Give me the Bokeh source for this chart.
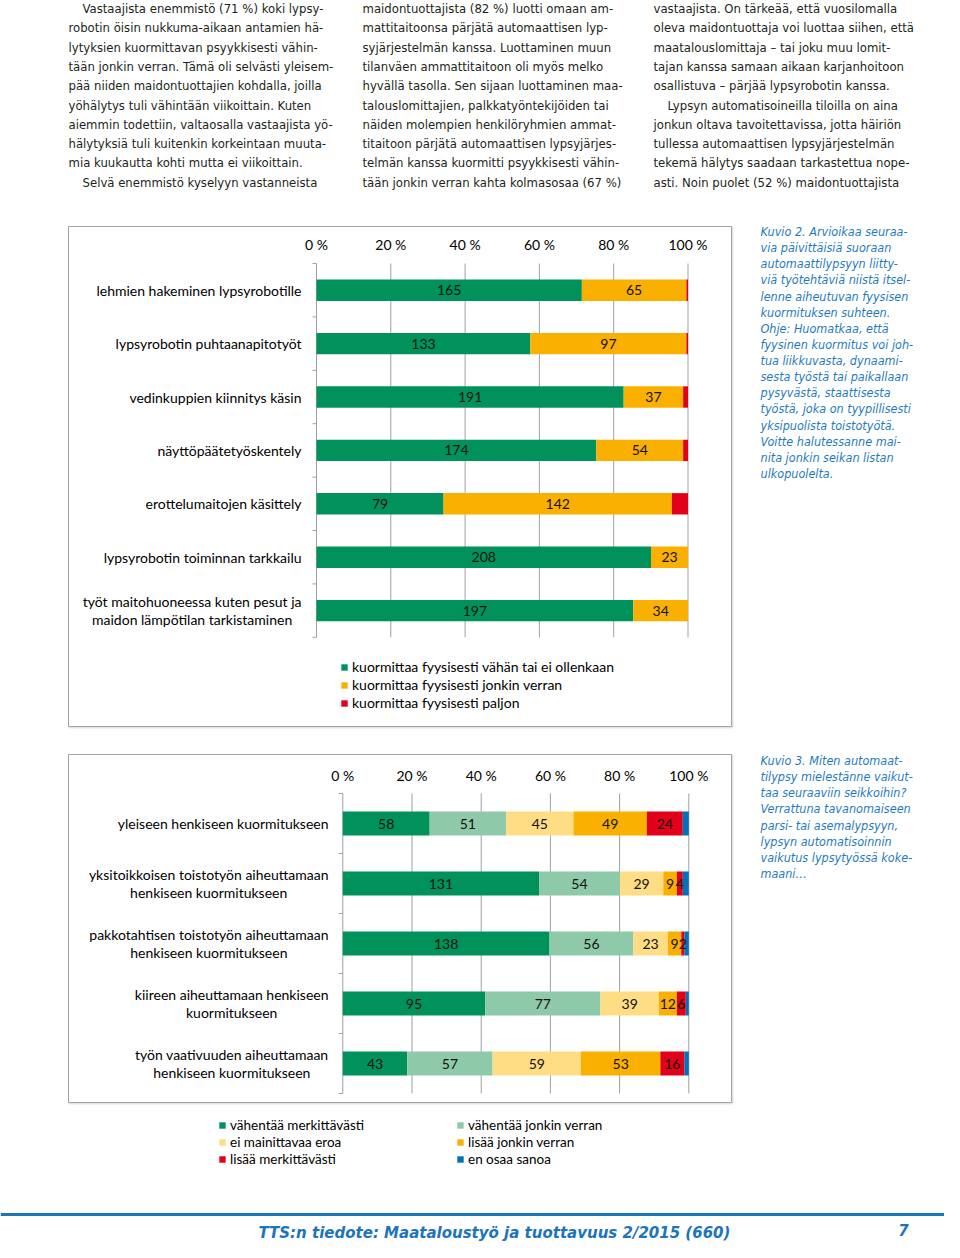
from bokeh.plotting import figure
from bokeh.models import Range1d, Legend, LegendItem, ColumnDataSource
from bokeh.core.properties import value
from bokeh.embed import file_html
from bokeh.resources import INLINE

# ---------------- data ----------------
fig2_tasks = [
    "lehmien hakeminen lypsyrobotille",
    "lypsyrobotin puhtaanapitotyöt",
    "vedinkuppien kiinnitys käsin",
    "näyttöpäätetyöskentely",
    "erottelumaitojen käsittely",
    "lypsyrobotin toiminnan tarkkailu",
    "työt maitohuoneessa kuten pesut ja\nmaidon lämpötilan tarkistaminen",
]
fig2_series = [
    "kuormittaa fyysisesti vähän tai ei ollenkaan",
    "kuormittaa fyysisesti jonkin verran",
    "kuormittaa fyysisesti paljon",
]
fig2_little = [165, 133, 191, 174, 79, 208, 197]
fig2_some = [65, 97, 37, 54, 142, 23, 34]
fig2_much = [1, 1, 3, 3, 10, 0, 0]

fig3_items = [
    "yleiseen henkiseen kuormitukseen",
    "yksitoikkoisen toistotyön aiheuttamaan\nhenkiseen kuormitukseen",
    "pakkotahtisen toistotyön aiheuttamaan\nhenkiseen kuormitukseen",
    "kiireen aiheuttamaan henkiseen\nkuormitukseen",
    "työn vaativuuden aiheuttamaan\nhenkiseen kuormitukseen",
]
fig3_series = [
    "vähentää merkittävästi",
    "vähentää jonkin verran",
    "ei mainittavaa eroa",
    "lisää jonkin verran",
    "lisää merkittävästi",
    "en osaa sanoa",
]
fig3_reduces_much = [58, 131, 138, 95, 43]
fig3_reduces_some = [51, 54, 56, 77, 57]
fig3_no_difference = [45, 29, 23, 39, 59]
fig3_adds_some = [49, 9, 9, 12, 53]
fig3_adds_much = [24, 4, 2, 6, 16]
fig3_dont_know = [4, 4, 3, 2, 3]

pct_ticks = [0, 20, 40, 60, 80, 100]
pct_tick_labels = ["0 %", "20 %", "40 %", "60 %", "80 %", "100 %"]

col1_lines = [
    "Vastaajista enemmistö (71 %) koki lypsy-",
    "robotin öisin nukkuma-aikaan antamien hä-",
    "lytyksien kuormittavan psyykkisesti vähin-",
    "tään jonkin verran. Tämä oli selvästi yleisem-",
    "pää niiden maidontuottajien kohdalla, joilla",
    "yöhälytys tuli vähintään viikoittain. Kuten",
    "aiemmin todettiin, valtaosalla vastaajista yö-",
    "hälytyksiä tuli kuitenkin korkeintaan muuta-",
    "mia kuukautta kohti mutta ei viikoittain.",
    "Selvä enemmistö kyselyyn vastanneista",
]
col2_lines = [
    "maidontuottajista (82 %) luotti omaan am-",
    "mattitaitoonsa pärjätä automaattisen lyp-",
    "syjärjestelmän kanssa. Luottaminen muun",
    "tilanväen ammattitaitoon oli myös melko",
    "hyvällä tasolla. Sen sijaan luottaminen maa-",
    "talouslomittajien, palkkatyöntekijöiden tai",
    "näiden molempien henkilöryhmien ammat-",
    "titaitoon pärjätä automaattisen lypsyjärjes-",
    "telmän kanssa kuormitti psyykkisesti vähin-",
    "tään jonkin verran kahta kolmasosaa (67 %)",
]
col3_lines = [
    "vastaajista. On tärkeää, että vuosilomalla",
    "oleva maidontuottaja voi luottaa siihen, että",
    "maatalouslomittaja – tai joku muu lomit-",
    "tajan kanssa samaan aikaan karjanhoitoon",
    "osallistuva – pärjää lypsyrobotin kanssa.",
    "Lypsyn automatisoineilla tiloilla on aina",
    "jonkun oltava tavoitettavissa, jotta häiriön",
    "tullessa automaattisen lypsyjärjestelmän",
    "tekemä hälytys saadaan tarkastettua nope-",
    "asti. Noin puolet (52 %) maidontuottajista",
]
caption2_lines = [
    "Kuvio 2. Arvioikaa seuraa-",
    "via päivittäisiä suoraan",
    "automaattilypsyyn liitty-",
    "viä työtehtäviä niistä itsel-",
    "lenne aiheutuvan fyysisen",
    "kuormituksen suhteen.",
    "Ohje: Huomatkaa, että",
    "fyysinen kuormitus voi joh-",
    "tua liikkuvasta, dynaami-",
    "sesta työstä tai paikallaan",
    "pysyvästä, staattisesta",
    "työstä, joka on tyypillisesti",
    "yksipuolista toistotyötä.",
    "Voitte halutessanne mai-",
    "nita jonkin seikan listan",
    "ulkopuolelta.",
]
caption3_lines = [
    "Kuvio 3. Miten automaat-",
    "tilypsy mielestänne vaikut-",
    "taa seuraaviin seikkoihin?",
    "Verrattuna tavanomaiseen",
    "parsi- tai asemalypsyyn,",
    "lypsyn automatisoinnin",
    "vaikutus lypsytyössä koke-",
    "maani…",
]
footer_text = "TTS:n tiedote: Maataloustyö ja tuottavuus 2/2015 (660)"
page_number = "7"

# ---------------- styles ----------------
GREEN = "#00925a"
LGREEN = "#8ecaa9"
LYELLOW = "#fedd85"
ORANGE = "#f9b000"
RED = "#e2001a"
BLUE = "#0071bc"
GRID = "#a0a0a0"
CAPTION = "#1f7bbf"
FOOT = "#1c74bb"
CHART_FONT = "Lato"
BODY_FONT = "DejaVu Sans Condensed"

W, H = 944, 1242
PX0, PX1, PY0, PY1 = 0, W, 0, H  # picture coordinates covered by the frame

p = figure(width=W, height=H, x_range=Range1d(PX0, PX1), y_range=Range1d(PY1, PY0),
           x_axis_type=None, y_axis_type=None, toolbar_location=None,
           output_backend="svg", min_border=0, outline_line_color=None)
p.background_fill_color = "white"
p.border_fill_color = "white"

# ---------------- body text ----------------
def text_column(lines, x_left, indents, y_first, dy):
    xs = [x_left + (14 if i in indents else 0) for i in range(len(lines))]
    ys = [y_first + dy * i for i in range(len(lines))]
    p.text(x=xs, y=ys, text=lines, text_font=value(BODY_FONT), text_font_size="13px",
           text_color="#231f20", text_align="left", text_baseline="middle")

text_column(col1_lines, 68, {0, 9}, 8, 19.3)
text_column(col2_lines, 362, set(), 8, 19.3)
text_column(col3_lines, 653, {5}, 8, 19.3)

# ---------------- chart boxes ----------------
p.quad(left=[69, 69], right=[732, 732], top=[227, 755], bottom=[727, 1103],
       fill_color=None, line_color="#e4e4e4", line_width=2)
p.quad(left=[68, 68], right=[731, 731], top=[226, 754], bottom=[726, 1102],
       fill_color="white", line_color="#a3a3a3", line_width=1)


def stacked_chart(key, cats, names, series, colors, n_labelled, x0, x100, top, row_h,
                  tick_y, cat_right, font_size, legend_specs):
    s = 100.0 / (x100 - x0)
    xr, yr = key + "_x", key + "_y"
    p.extra_x_ranges[xr] = Range1d((PX0 - x0) * s, (PX1 - x0) * s)
    p.extra_y_ranges[yr] = Range1d((PY1 - top) / row_h, (PY0 - top) / row_h)
    n = len(cats)
    totals = [sum(col) for col in zip(*series)]

    # grid lines and axis
    p.segment(x0=pct_ticks, y0=[0] * len(pct_ticks), x1=pct_ticks, y1=[n] * len(pct_ticks),
              x_range_name=xr, y_range_name=yr, line_color=GRID, line_width=1)
    bnd = list(range(n + 1))
    p.segment(x0=[-4 * s] * len(bnd), y0=bnd, x1=[0] * len(bnd), y1=bnd,
              x_range_name=xr, y_range_name=yr, line_color=GRID, line_width=1)
    # percent tick labels
    p.text(x=pct_ticks, y=[tick_y] * len(pct_ticks), text=pct_tick_labels, x_range_name=xr,
           text_font=value(CHART_FONT), text_font_size=font_size, text_color="#000000",
           text_align="center", text_baseline="middle")
    # category labels
    p.text(x=[cat_right] * n, y=[i + 0.5 for i in range(n)], text=cats, y_range_name=yr,
           text_font=value(CHART_FONT), text_font_size=font_size, text_color="#000000",
           text_align="center", anchor="center_right", text_line_height=1.05)

    left = [0.0] * n
    renderers = []
    label_srcs = []
    for k, (vals, color) in enumerate(zip(series, colors)):
        pct = [v / t * 100 for v, t in zip(vals, totals)]
        right = [l + q for l, q in zip(left, pct)]
        src = ColumnDataSource(dict(
            y=[i + 0.5 for i in range(n)], left=left, right=right,
            mid=[(l + r) / 2 for l, r in zip(left, right)],
            lab=[str(v) if v > 0 else "" for v in vals]))
        r = p.hbar(y="y", left="left", right="right", height=0.4, source=src,
                   x_range_name=xr, y_range_name=yr, fill_color=color, line_color=None)
        renderers.append(r)
        if k < n_labelled:
            label_srcs.append(src)
        left = right
    for src in label_srcs:
        p.text(x="mid", y="y", text="lab", source=src, x_range_name=xr, y_range_name=yr,
               text_font=value(CHART_FONT), text_font_size=font_size, text_color="#111111",
               text_align="center", text_baseline="middle")

    for idxs, lx, ltop, lrow, lfs in legend_specs:
        items = [LegendItem(label=names[i], renderers=[renderers[i]]) for i in idxs]
        bottom = ltop + lrow * len(idxs)
        leg = Legend(items=items, location=(lx - PX0, PY1 - bottom),
                     glyph_width=8, glyph_height=8, label_standoff=4, spacing=0,
                     padding=0, margin=0, label_height=int(lrow), border_line_color=None,
                     background_fill_alpha=0, label_text_font=CHART_FONT,
                     label_text_font_size=lfs, label_text_color="#000000")
        p.add_layout(leg)


stacked_chart("c2", fig2_tasks, fig2_series, [fig2_little, fig2_some, fig2_much],
              [GREEN, ORANGE, RED], 2, 316, 687.5, 263, 53.4, 244, 301, "14px",
              [([0, 1, 2], 340, 656, 18.6, "14px")])

stacked_chart("c3", fig3_items, fig3_series,
              [fig3_reduces_much, fig3_reduces_some, fig3_no_difference,
               fig3_adds_some, fig3_adds_much, fig3_dont_know],
              [GREEN, LGREEN, LYELLOW, ORANGE, RED, BLUE], 5, 342.3, 688.3, 793, 60,
              775, 328, "14px",
              [([0, 2, 4], 218, 1114.5, 17.6, "13.5px"),
               ([1, 3, 5], 456, 1114.5, 17.6, "13.5px")])

# ---------------- captions ----------------
p.text(x=[760] * len(caption2_lines), y=[231 + 16.13 * i for i in range(len(caption2_lines))],
       text=caption2_lines, text_font=value(BODY_FONT), text_font_style="italic",
       text_font_size="12.5px", text_color=CAPTION, text_baseline="middle")
p.text(x=[760] * len(caption3_lines), y=[760 + 16.13 * i for i in range(len(caption3_lines))],
       text=caption3_lines, text_font=value(BODY_FONT), text_font_style="italic",
       text_font_size="12.5px", text_color=CAPTION, text_baseline="middle")

# ---------------- footer ----------------
p.segment(x0=[0], y0=[1214], x1=[960], y1=[1214], line_color=FOOT, line_width=3)
p.text(x=[258], y=[1232], text=[footer_text], text_font=value("DejaVu Sans"),
       text_font_style="bold italic", text_font_size="15px", text_color=FOOT,
       text_baseline="middle")
p.text(x=[903], y=[1229], text=[page_number], text_font=value("DejaVu Sans"),
       text_font_style="bold italic", text_font_size="15px", text_color=FOOT,
       text_align="center", text_baseline="middle")

open("out.html", "w").write(file_html(p, INLINE))
